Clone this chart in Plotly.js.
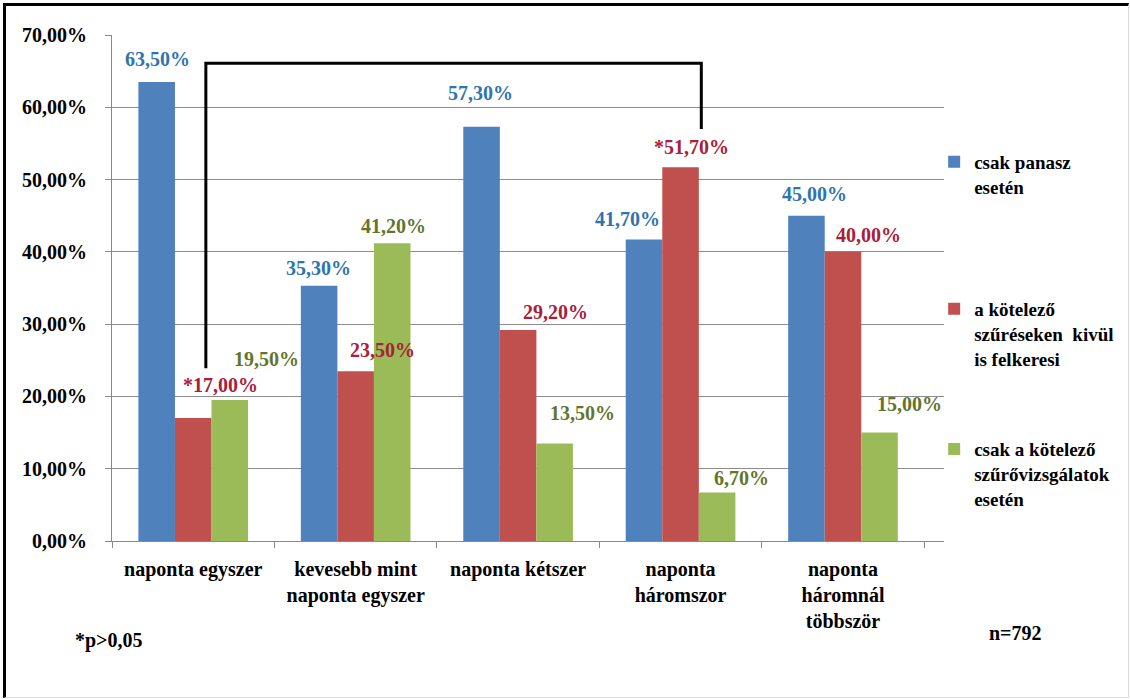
<!DOCTYPE html>
<html>
<head>
<meta charset="utf-8">
<script src="https://cdn.plot.ly/plotly-3.0.1.min.js"></script>
<style>
  html, body { margin: 0; padding: 0; background: #ffffff; }
  #wrap { position: relative; width: 1130px; height: 699px; }
  #chart { position: absolute; left: 0; top: 0; width: 1130px; height: 699px; }
  #frame { position: absolute; left: 3px; top: 3px; width: 1122px; height: 691px;
           border-top: 3px solid #000; border-left: 3px solid #000;
           border-right: 1px solid #d8d8d8; border-bottom: 1px solid #e0e0e0;
           pointer-events: none; }
</style>
</head>
<body>
<div id="wrap">
  <div id="chart"></div>
  <div id="frame"></div>
</div>
<script>
// ---- data ----
const categories = [
  "naponta egyszer",
  "kevesebb mint<br>naponta egyszer",
  "naponta kétszer",
  "naponta<br>háromszor",
  "naponta<br>háromnál<br>többször"
];
const seriesNames = [
  "csak panasz<br>esetén",
  "a kötelező<br>szűréseken  kivül<br>is felkeresi",
  "csak a kötelező<br>szűrővizsgálatok<br>esetén"
];
const panasz    = [63.5, 35.3, 57.3, 41.7, 45.0];
const felkeresi = [17.0, 23.5, 29.2, 51.7, 40.0];
const kotelezo  = [19.5, 41.2, 13.5, 6.7, 15.0];
// significance markers on labels
const starPanasz    = ["", "", "", "", ""];
const starFelkeresi = ["*", "", "", "*", ""];
const starKotelezo  = ["", "", "", "", ""];
const yTickVals  = [0, 10, 20, 30, 40, 50, 60, 70];
const yTickTexts = ["0,00%", "10,00%", "20,00%", "30,00%", "40,00%", "50,00%", "60,00%", "70,00%"];

// ---- label placement (pixel offsets from bar top-centre; layout only) ----
const labelDx = [
  [2, 0, 0, -16, 9],
  [27, 27, 37, 11, 25],
  [36, 0, 27, 23, 29]
];
const labelDy = [
  [23, 18, 34, 21, 22],
  [33, 21, 18, 20, 17],
  [41, 17, 30, 15, 29]
];

const FONT = "Liberation Serif";
const barColors = ["#4F81BD", "#C0504D", "#9BBB59"];
const labelColors = ["#2f74ad", "#a8203a", "#62752c"];
const seriesValues = [panasz, felkeresi, kotelezo];
const seriesStars = [starPanasz, starFelkeresi, starKotelezo];
const legendIds = ["legend", "legend2", "legend3"];

const fmt = v => v.toFixed(2).replace(".", ",") + "%";

const traces = seriesValues.map((vals, s) => ({
  type: "bar",
  name: seriesNames[s],
  x: categories,
  y: vals,
  marker: { color: barColors[s] },
  legend: legendIds[s],
  hoverinfo: "skip"
}));

const barStep = 37.5; // pixel width of one bar in a group
const annotations = [];
seriesValues.forEach((vals, s) => {
  vals.forEach((v, i) => {
    annotations.push({
      x: categories[i], xref: "x",
      y: v, yref: "y",
      text: seriesStars[s][i] + fmt(v),
      showarrow: false,
      xanchor: "center", yanchor: "middle",
      xshift: (s - 1) * barStep + labelDx[s][i],
      yshift: labelDy[s][i],
      font: { family: FONT, size: 20, color: labelColors[s], weight: "bold" }
    });
  });
});
annotations.push({
  xref: "paper", yref: "paper", x: -0.004, y: -0.196,
  text: "*p>0,05", showarrow: false, xanchor: "center", yanchor: "middle",
  font: { family: FONT, size: 20, color: "#000", weight: "bold" }
});
annotations.push({
  xref: "paper", yref: "paper", x: 1.0864, y: -0.182,
  text: "n=792", showarrow: false, xanchor: "center", yanchor: "middle",
  font: { family: FONT, size: 20, color: "#000", weight: "bold" }
});

const legendBase = {
  xref: "paper", yref: "paper", xanchor: "left", yanchor: "top",
  bgcolor: "rgba(0,0,0,0)", borderwidth: 0, valign: "top",
  font: { family: FONT, size: 19, color: "#000", weight: "bold" }
};

const layout = {
  width: 1130, height: 699,
  margin: { l: 112, r: 185, t: 35, b: 158 },
  paper_bgcolor: "#ffffff",
  plot_bgcolor: "#ffffff",
  bargap: 0.325,
  bargroupgap: 0,
  barmode: "group",
  showlegend: true,
  font: { family: FONT },
  legend:  Object.assign({}, legendBase, { x: 0.987, y: 0.787 }),
  legend2: Object.assign({}, legendBase, { x: 0.987, y: 0.496 }),
  legend3: Object.assign({}, legendBase, { x: 0.987, y: 0.219 }),
  xaxis: {
    type: "category",
    showline: true, linecolor: "#8a8a8a", linewidth: 1,
    ticks: "outside", tickson: "boundaries", ticklen: 6, tickcolor: "#8a8a8a",
    showgrid: false,
    ticklabelstandoff: 10,
    tickfont: { family: FONT, size: 20, color: "#000", weight: "bold" },
    fixedrange: true
  },
  yaxis: {
    range: [0, 70],
    tickmode: "array",
    tickvals: yTickVals,
    ticktext: yTickTexts,
    showline: true, linecolor: "#8a8a8a", linewidth: 1,
    ticks: "outside", ticklen: 6, tickcolor: "#8a8a8a",
    showgrid: true, gridcolor: "#8c8c8c", gridwidth: 1,
    zeroline: false,
    ticklabelstandoff: 14,
    tickfont: { family: FONT, size: 20, color: "#000", weight: "bold" },
    fixedrange: true
  },
  shapes: [{
    type: "path", xref: "paper", yref: "y",
    path: "M 0.1128,23.9 L 0.1128,66.1 L 0.7083,66.1 L 0.7083,57.0",
    line: { color: "#000", width: 3 }
  }],
  annotations: annotations
};

Plotly.newPlot("chart", traces, layout, { displayModeBar: false, staticPlot: true });
</script>
</body>
</html>
